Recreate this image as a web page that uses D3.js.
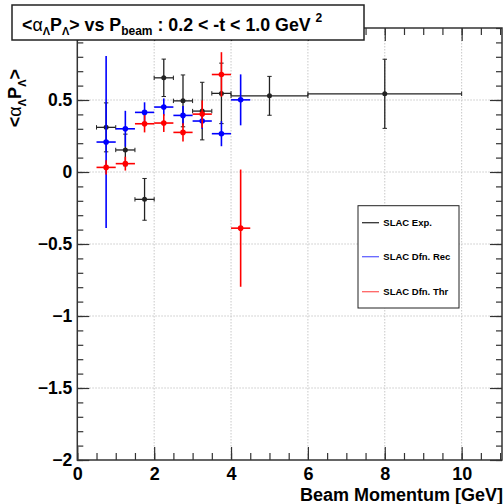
<!DOCTYPE html>
<html>
<head>
<meta charset="utf-8">
<script src="https://cdn.jsdelivr.net/npm/d3@7"></script>
<style>
  body { margin: 0; background: #fff; }
  svg { display: block; }
  text { font-family: "Liberation Sans", Arial, Helvetica, sans-serif; font-weight: bold; fill: #000; }
</style>
</head>
<body>
<svg id="chart" width="504" height="504"></svg>
<script>
// SLAC experimental points: beam momentum bin centre, half bin width, asymmetry, error
const expMomentum = [0.75, 1.25, 1.75, 2.25, 2.75, 3.25, 3.75, 5.0, 8.0];
const expHalfWidth = [0.25, 0.25, 0.25, 0.25, 0.25, 0.25, 0.25, 1.0, 2.0];
const expValue = [0.31, 0.153, -0.19, 0.654, 0.494, 0.423, 0.546, 0.529, 0.543];
const expError = [0.17, 0.11, 0.145, 0.13, 0.18, 0.20, 0.21, 0.135, 0.24];

// Simulation, reconstructed
const recMomentum = [0.75, 1.25, 1.75, 2.25, 2.75, 3.25, 3.75, 4.25];
const recHalfWidth = [0.25, 0.25, 0.25, 0.25, 0.25, 0.25, 0.25, 0.25];
const recValue = [0.208, 0.30, 0.414, 0.451, 0.393, 0.354, 0.266, 0.501];
const recError = [0.597, 0.125, 0.07, 0.06, 0.065, 0.055, 0.087, 0.177];

// Simulation, thrown
const thrMomentum = [0.75, 1.25, 1.75, 2.25, 2.75, 3.25, 3.75, 4.25];
const thrHalfWidth = [0.25, 0.25, 0.25, 0.25, 0.25, 0.25, 0.25, 0.25];
const thrValue = [0.032, 0.058, 0.335, 0.34, 0.275, 0.402, 0.677, -0.39];
const thrError = [0.05, 0.048, 0.06, 0.062, 0.064, 0.095, 0.155, 0.407];

const legendLabels = ["SLAC Exp.", "SLAC Dfn. Rec", "SLAC Dfn. Thr"];
const seriesColors = ["#222222", "#0000ff", "#ff0000"];
const legendLineColors = ["#333333", "#6464ff", "#ff6464"];

const xMajorTicks = [0, 2, 4, 6, 8, 10];
const xMinorTicks = d3.range(0, 11.01, 0.5);
const yMajorTicks = [-2, -1.5, -1, -0.5, 0, 0.5];
const yMinorTicks = d3.range(-20, 11).map(d => d / 10);

const svg = d3.select("#chart");
const frame = { left: 77.3, right: 502, top: 28, bottom: 460 };

const x = d3.scaleLinear().domain([0, 11.05]).range([frame.left, frame.right]);
const y = d3.scaleLinear().domain([-2, 1]).range([frame.bottom, frame.top]);

// grid
const grid = svg.append("g").attr("stroke", "#c8c8c8").attr("stroke-width", 1).attr("stroke-dasharray", "1.5,1.5");
grid.selectAll("line.gx").data(xMajorTicks.filter(d => d > 0)).join("line")
  .attr("x1", d => x(d)).attr("x2", d => x(d)).attr("y1", frame.top).attr("y2", frame.bottom);
grid.selectAll("line.gy").data(yMajorTicks.filter(d => d > -2)).join("line")
  .attr("x1", frame.left).attr("x2", frame.right).attr("y1", d => y(d)).attr("y2", d => y(d));

// axes with ticks pointing into the frame
function styleAxis(g) {
  g.select(".domain").remove();
  g.selectAll(".tick line").attr("stroke", "#333").attr("stroke-width", 1.2);
}
svg.append("g").attr("transform", `translate(0,${frame.bottom})`)
  .call(d3.axisBottom(x).tickValues(xMinorTicks).tickSize(-7).tickFormat("")).call(styleAxis);
svg.append("g").attr("transform", `translate(0,${frame.bottom})`)
  .call(d3.axisBottom(x).tickValues(xMajorTicks).tickSize(-13).tickPadding(7.5).tickFormat(d3.format("d")))
  .call(styleAxis)
  .selectAll("text").attr("font-size", 18).attr("font-family", null);
svg.append("g").attr("transform", `translate(0,${frame.top})`)
  .call(d3.axisTop(x).tickValues(xMinorTicks).tickSize(-7).tickFormat("")).call(styleAxis);
svg.append("g").attr("transform", `translate(0,${frame.top})`)
  .call(d3.axisTop(x).tickValues(xMajorTicks).tickSize(-13).tickFormat("")).call(styleAxis);

svg.append("g").attr("transform", `translate(${frame.left},0)`)
  .call(d3.axisLeft(y).tickValues(yMinorTicks).tickSize(-6).tickFormat("")).call(styleAxis);
svg.append("g").attr("transform", `translate(${frame.left},0)`)
  .call(d3.axisLeft(y).tickValues(yMajorTicks).tickSize(-12).tickPadding(5).tickFormat(d3.format("~g")))
  .call(styleAxis)
  .selectAll("text").attr("font-size", 17.5).attr("font-family", null);
svg.append("g").attr("transform", `translate(${frame.right},0)`)
  .call(d3.axisRight(y).tickValues(yMinorTicks).tickSize(-6).tickFormat("")).call(styleAxis);
svg.append("g").attr("transform", `translate(${frame.right},0)`)
  .call(d3.axisRight(y).tickValues(yMajorTicks).tickSize(-12).tickFormat("")).call(styleAxis);

// frame
svg.append("rect")
  .attr("x", frame.left).attr("y", frame.top)
  .attr("width", frame.right - frame.left).attr("height", frame.bottom - frame.top)
  .attr("fill", "none").attr("stroke", "#333").attr("stroke-width", 1.5);

// data series with error bars
function drawSeries(xs, xe, ys, ye, color, width, caps, radius) {
  const pts = xs.map((v, i) => ({ x: v, xe: xe[i], y: ys[i], ye: ye[i] }));
  const g = svg.append("g").attr("stroke", color).attr("fill", color);
  g.selectAll("line.h").data(pts).join("line").attr("class", "h")
    .attr("x1", d => x(d.x - d.xe)).attr("x2", d => x(d.x + d.xe))
    .attr("y1", d => y(d.y)).attr("y2", d => y(d.y)).attr("stroke-width", width);
  g.selectAll("line.v").data(pts).join("line").attr("class", "v")
    .attr("x1", d => x(d.x)).attr("x2", d => x(d.x))
    .attr("y1", d => y(d.y + d.ye)).attr("y2", d => y(d.y - d.ye)).attr("stroke-width", width);
  if (caps) {
    const c = 2.2;
    pts.forEach(d => {
      [d.y + d.ye, d.y - d.ye].forEach(v => g.append("line")
        .attr("x1", x(d.x) - c).attr("x2", x(d.x) + c).attr("y1", y(v)).attr("y2", y(v)).attr("stroke-width", 1));
      [d.x + d.xe, d.x - d.xe].forEach(v => g.append("line")
        .attr("x1", x(v)).attr("x2", x(v)).attr("y1", y(d.y) - c).attr("y2", y(d.y) + c).attr("stroke-width", 1));
    });
  }
  g.selectAll("circle").data(pts).join("circle")
    .attr("cx", d => x(d.x)).attr("cy", d => y(d.y)).attr("r", radius).attr("stroke", "none");
}
drawSeries(expMomentum, expHalfWidth, expValue, expError, seriesColors[0], 1.3, true, 2.5);
drawSeries(recMomentum, recHalfWidth, recValue, recError, seriesColors[1], 1.6, false, 2.8);
drawSeries(thrMomentum, thrHalfWidth, thrValue, thrError, seriesColors[2], 1.6, false, 2.8);

// axis titles
svg.append("text").attr("x", 503).attr("y", 501).attr("text-anchor", "end")
  .attr("font-size", 18).text("Beam Momentum [GeV]");

const yTitle = svg.append("text").attr("transform", "translate(21,69) rotate(-90)")
  .attr("text-anchor", "end").attr("font-size", 18);
yTitle.append("tspan").text("<");
yTitle.append("tspan").attr("font-weight", "normal").text("α");
yTitle.append("tspan").attr("font-size", 11).attr("dy", 5).text("Λ");
yTitle.append("tspan").attr("dy", -5).text("P");
yTitle.append("tspan").attr("font-size", 11).attr("dy", 5).text("Λ");
yTitle.append("tspan").attr("dy", -5).text(">");

// title box
svg.append("rect").attr("x", 12).attr("y", 5).attr("width", 352).attr("height", 35)
  .attr("fill", "#fff").attr("stroke", "#222").attr("stroke-width", 1.5);
const title = svg.append("text").attr("x", 22).attr("y", 30.5).attr("font-size", 17.8);
title.append("tspan").text("<");
title.append("tspan").attr("font-weight", "normal").text("α");
title.append("tspan").attr("font-size", 11).attr("dy", 4.5).text("Λ");
title.append("tspan").attr("dy", -4.5).text("P");
title.append("tspan").attr("font-size", 11).attr("dy", 4.5).text("Λ");
title.append("tspan").attr("dy", -4.5).text("> vs P");
title.append("tspan").attr("font-size", 12).attr("dy", 4.5).text("beam");
title.append("tspan").attr("dy", -4.5).text(" : 0.2 < -t < 1.0 GeV ");
title.append("tspan").attr("font-size", 12).attr("dy", -9).text("2");

// legend
const legend = svg.append("g");
legend.append("rect").attr("x", 358).attr("y", 205.7).attr("width", 101).attr("height", 102.3)
  .attr("fill", "#fff").attr("stroke", "#222").attr("stroke-width", 1);
const legendY = [222.7, 256.7, 291.7];
legendLabels.forEach((lab, i) => {
  legend.append("line").attr("x1", 362).attr("x2", 379).attr("y1", legendY[i]).attr("y2", legendY[i])
    .attr("stroke", legendLineColors[i]).attr("stroke-width", 1.3);
  legend.append("text").attr("x", 383.3).attr("y", legendY[i] + 3.4)
    .attr("font-size", 9.5).text(lab);
});
</script>
</body>
</html>
